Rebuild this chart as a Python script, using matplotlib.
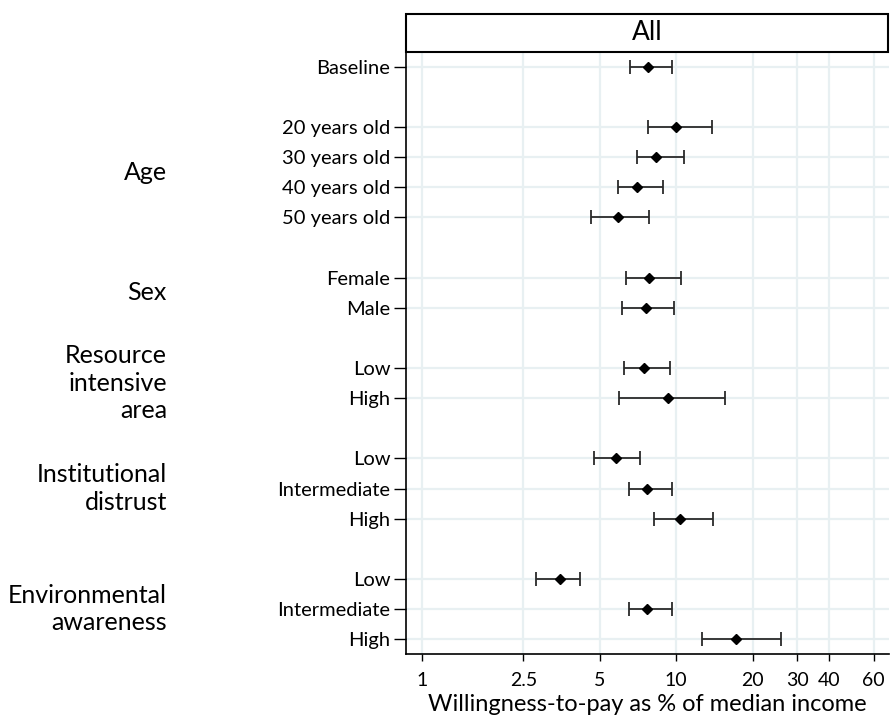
import matplotlib
matplotlib.use("Agg")
import matplotlib.pyplot as plt
import matplotlib.transforms as mtransforms
from matplotlib.patches import Rectangle
import numpy as np

plt.rcParams['font.family'] = ['Lato', 'DejaVu Sans']

# Data
row_labels = ["Baseline",
              "20 years old", "30 years old", "40 years old", "50 years old",
              "Female", "Male",
              "Low", "High",
              "Low", "Intermediate", "High",
              "Low", "Intermediate", "High"]
row_pos = [0, 2, 3, 4, 5, 7, 8, 10, 11, 13, 14, 15, 17, 18, 19]
estimate = [7.74, 9.97, 8.36, 7.04, 5.92, 7.85, 7.62, 7.48, 9.30, 5.79, 7.71, 10.34, 3.48, 7.69, 17.2]
ci_low = [6.57, 7.76, 7.02, 5.89, 4.62, 6.35, 6.11, 6.24, 5.94, 4.75, 6.55, 8.17, 2.81, 6.55, 12.7]
ci_high = [9.67, 13.9, 10.75, 8.89, 7.83, 10.49, 9.82, 9.47, 15.6, 7.23, 9.64, 14.0, 4.20, 9.67, 25.9]

group_labels = ["Age", "Sex", "Resource\nintensive\narea", "Institutional\ndistrust",
                "Environmental\nawareness"]
group_centers = [3.5, 7.5, 10.5, 14, 18]

xticks = [1, 2.5, 5, 10, 20, 30, 40, 60]
xtick_labels = ["1", "2.5", "5", "10", "20", "30", "40", "60"]
title = "All"
xlabel = "Willingness-to-pay as % of median income"

W, H = 890, 718
fig = plt.figure(figsize=(W / 100, H / 100), dpi=100)
ax_l, ax_r, ax_t, ax_b = 405.7, 889.0, 51.7, 654.3
ax = fig.add_axes([ax_l / W, 1 - ax_b / H, (ax_r - ax_l) / W, (ax_b - ax_t) / H])

est = np.array(estimate)
lo = np.array(ci_low)
hi = np.array(ci_high)
ax.errorbar(est, row_pos, xerr=[est - lo, hi - est], fmt='D', color='black',
            ecolor='#2a2a2a', elinewidth=1.3, capsize=5, capthick=1.3,
            markersize=5.5, zorder=3)

ax.set_xscale('log')
ax.set_xlim(0.86, 69)
ax.set_ylim(19.5, -0.5)
ax.set_xticks(xticks)
ax.set_xticklabels(xtick_labels)
ax.xaxis.set_minor_locator(matplotlib.ticker.NullLocator())
ax.set_yticks(row_pos)
ax.set_yticklabels(row_labels)
ax.tick_params(axis='y', length=9, width=1, pad=2, labelsize=14.5)
ax.tick_params(axis='x', length=5, width=1, pad=8, labelsize=14)
ax.grid(True, color='#e8f0f2', linewidth=1.6, zorder=0)
ax.set_axisbelow(True)
for s in ['top', 'right']:
    ax.spines[s].set_visible(False)
for s in ['left', 'bottom']:
    ax.spines[s].set_linewidth(1.2)
ax.set_xlabel(xlabel, fontsize=17, labelpad=3)

# Title box
box_top = 14.3
rect = Rectangle((ax_l / W, 1 - ax_t / H), (ax_r - ax_l) / W - 0.001, (ax_t - box_top) / H,
                 transform=fig.transFigure, facecolor='white', edgecolor='black',
                 linewidth=1.5, clip_on=False)
fig.add_artist(rect)
fig.text((ax_l + ax_r) / 2 / W, 1 - (ax_t + box_top) / 2 / H, title,
         ha='center', va='center', fontsize=19)

# Group labels
trans = mtransforms.blended_transform_factory(fig.transFigure, ax.transData)
for lab, c in zip(group_labels, group_centers):
    ax.text(167 / W, c, lab, transform=trans, ha='right', va='center',
            fontsize=18, linespacing=1.22, clip_on=False)

fig.savefig("out.png", dpi=100)
